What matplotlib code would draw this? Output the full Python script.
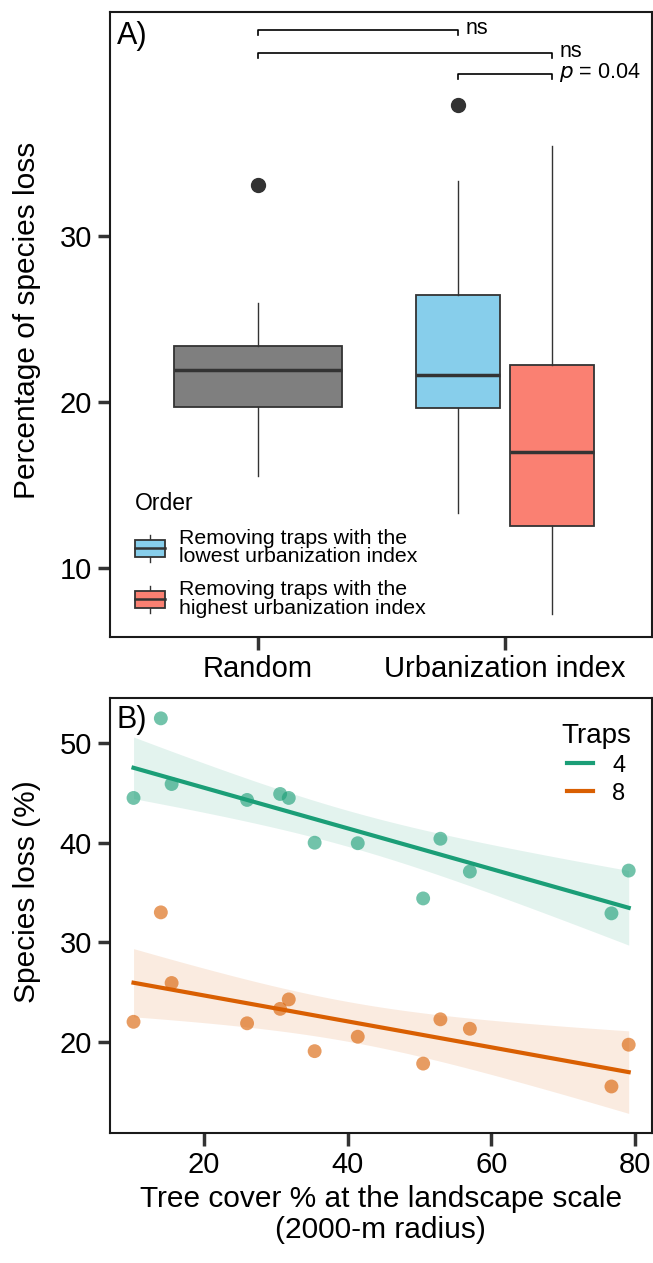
import numpy as np
import matplotlib
matplotlib.use('Agg')
import matplotlib.pyplot as plt
from matplotlib.legend_handler import HandlerBase
from matplotlib.patches import Rectangle, Patch
from matplotlib.lines import Line2D

plt.rcParams['font.family'] = ['Liberation Sans', 'DejaVu Sans']

# ---- panel A data (box stats) ----
groups = ['Random', 'Lowest', 'Highest']
box_pos = [0.0, 0.81, 1.19]
box_w = [0.68, 0.34, 0.34]
box_col = ['#7f7f7f', '#87ceeb', '#fa8072']
q1 = [19.7, 19.65, 12.5]
med = [21.9, 21.65, 17.0]
q3 = [23.4, 26.45, 22.25]
whis_lo = [15.55, 13.3, 7.2]
whis_hi = [25.95, 33.35, 35.45]
outliers = [[33.1], [37.95], []]
cat_labels = ['Random', 'Urbanization index']
legend_labels = ['Removing traps with the\nlowest urbanization index',
                 'Removing traps with the\nhighest urbanization index']
# comparisons: (x1, x2, y, label)
comp_x1 = [0.0, 0.0, 0.81]
comp_x2 = [0.81, 1.19, 1.19]
comp_y = [42.45, 41.05, 39.8]
comp_lab = ['ns', 'ns', r'$p$ = 0.04']

# ---- panel B data ----
tree_cover = [10.2, 14.0, 15.5, 26.0, 30.6, 31.8, 35.4, 41.4, 50.5, 52.9, 57.0, 76.7, 79.1]
loss_4 = [44.5, 52.5, 45.9, 44.3, 44.9, 44.5, 40.0, 39.95, 34.4, 40.4, 37.1, 32.9, 37.2]
loss_8 = [22.0, 33.0, 25.9, 21.85, 23.3, 24.25, 19.05, 20.5, 17.8, 22.25, 21.3, 15.5, 19.7]
trap_labels = ['4', '8']
trap_cols = ['#1b9e77', '#d95f02']

dark = '#333333'


class BoxHandler(HandlerBase):
    def create_artists(self, legend, orig_handle, xdescent, ydescent,
                       width, height, fontsize, trans):
        fc = orig_handle.get_facecolor()
        x0, y0 = -xdescent, -ydescent
        bh = height * 0.62
        by = y0 + (height - bh) / 2
        cx = x0 + width / 2
        r = Rectangle((x0, by), width, bh, facecolor=fc, edgecolor=dark,
                      linewidth=1.3, transform=trans)
        m = Line2D([x0, x0 + width], [by + bh / 2] * 2, color=dark, lw=1.8, transform=trans)
        w1 = Line2D([cx, cx], [by + bh, y0 + height], color=dark, lw=1.0, transform=trans)
        w2 = Line2D([cx, cx], [y0, by], color=dark, lw=1.0, transform=trans)
        return [w1, w2, r, m]


fig = plt.figure(figsize=(6.53, 12.63), dpi=100)
axA = fig.add_axes([0.1685, 0.4956, 0.8295, 0.4949])
axB = fig.add_axes([0.1685, 0.1029, 0.8295, 0.3444])

# ---------------- panel A ----------------
stats = []
for i in range(3):
    stats.append(dict(med=med[i], q1=q1[i], q3=q3[i], whislo=whis_lo[i],
                      whishi=whis_hi[i], fliers=outliers[i]))
bp = axA.bxp(stats, positions=box_pos, widths=box_w, patch_artist=True,
             showcaps=False, manage_ticks=False,
             boxprops=dict(edgecolor=dark, linewidth=1.3),
             whiskerprops=dict(color=dark, linewidth=1.0),
             medianprops=dict(color=dark, linewidth=2.5),
             flierprops=dict(marker='o', markerfacecolor=dark, markeredgecolor=dark,
                             markersize=10))
for patch, c in zip(bp['boxes'], box_col):
    patch.set_facecolor(c)

for x1, x2, y, lab in zip(comp_x1, comp_x2, comp_y, comp_lab):
    axA.plot([x1, x1, x2, x2], [y - 0.3, y, y, y - 0.3], color='black', lw=1.2)
    axA.text(x2 + 0.03, y + 0.1, lab, fontsize=15.5, va='center', ha='left')

axA.set_xlim(-0.6, 1.595)
axA.set_ylim(5.8, 43.55)
axA.set_xticks([0, 1])
axA.set_xticklabels(cat_labels)
axA.set_yticks([10, 20, 30])
axA.set_ylabel('Percentage of species loss', fontsize=21.5)
axA.yaxis.set_label_coords(-0.128, 0.507)
axA.text(0.012, 0.985, 'A)', transform=axA.transAxes, fontsize=22, va='top', ha='left')

handles = [Patch(facecolor=box_col[1]), Patch(facecolor=box_col[2])]
legA = axA.legend(handles, legend_labels, handler_map={Patch: BoxHandler()},
                  title='Order', title_fontsize=16.5, fontsize=15.3, frameon=False,
                  loc='upper left', bbox_to_anchor=(0.03, 0.245), alignment='left',
                  handlelength=1.4, handleheight=1.6, handletextpad=0.7,
                  labelspacing=0.65, borderaxespad=0)
for t in legA.get_texts():
    t.set_linespacing(0.95)

# ---------------- panel B ----------------
xs = np.array(tree_cover)
xg = np.linspace(xs.min(), xs.max(), 100)
t_crit = 2.201  # t(0.975, df=11)
for ys, col, lab in zip([loss_4, loss_8], trap_cols, trap_labels):
    ys = np.array(ys)
    b, a = np.polyfit(xs, ys, 1)
    resid = ys - (a + b * xs)
    n = len(xs)
    s = np.sqrt(np.sum(resid ** 2) / (n - 2))
    se = s * np.sqrt(1 / n + (xg - xs.mean()) ** 2 / np.sum((xs - xs.mean()) ** 2))
    fit = a + b * xg
    axB.fill_between(xg, fit - t_crit * se, fit + t_crit * se, color=col, alpha=0.12, lw=0)
    axB.scatter(xs, ys, s=100, color=col, alpha=0.62, edgecolors='none', zorder=3)
    axB.plot(xg, fit, color=col, lw=3, label=lab, zorder=4)

axB.set_xlim(6.93, 82.3)
axB.set_ylim(10.82, 54.54)
axB.set_xticks([20, 40, 60, 80])
axB.set_yticks([20, 30, 40, 50])
axB.set_ylabel('Species loss (%)', fontsize=21.5)
axB.yaxis.set_label_coords(-0.128, 0.555)
axB.set_xlabel('Tree cover % at the landscape scale\n(2000-m radius)', fontsize=21.5,
               linespacing=1.15)
axB.text(0.012, 0.985, 'B)', transform=axB.transAxes, fontsize=22, va='top', ha='left')
legB = axB.legend(title='Traps', title_fontsize=20, fontsize=17, frameon=False,
                  loc='upper right', bbox_to_anchor=(0.98, 0.965), borderaxespad=0,
                  handlelength=1.1, handletextpad=0.8, labelspacing=0.25)

for ax in (axA, axB):
    for sp in ax.spines.values():
        sp.set_linewidth(1.5)
        sp.set_color('#1a1a1a')
    ax.tick_params(axis='both', length=9, width=2.5, color=dark, labelsize=21,
                   labelcolor='black', pad=4)

fig.savefig('out.png', dpi=100)
